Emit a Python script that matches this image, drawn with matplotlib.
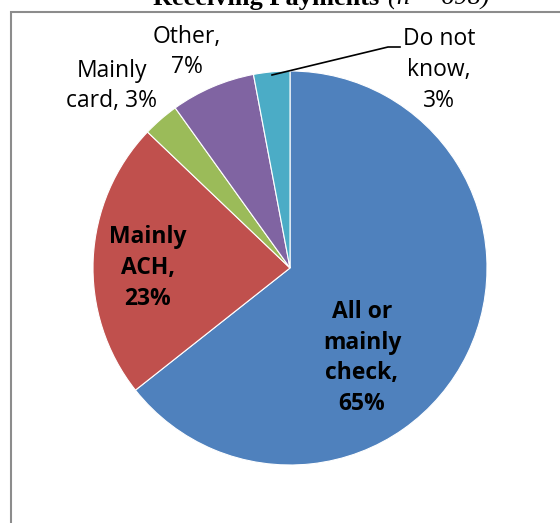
import matplotlib.pyplot as plt
from matplotlib.patches import Rectangle

# payment method shares, percent
categories = ["All or\nmainly\ncheck,", "Mainly\nACH,", "Mainly\ncard,", "Other,", "Do not\nknow,"]
shares = [65, 23, 3, 7, 3]
colors = ["#4F81BD", "#C0504D", "#9BBB59", "#8064A2", "#4BACC6"]

W, H = 560, 523
fig = plt.figure(figsize=(W / 100, H / 100), dpi=100)

# chart area border (runs off the right and bottom edges)
fig.patches.append(Rectangle((11 / W, -0.1), 1.2, (H - 12) / H + 0.1,
                             transform=fig.transFigure, fill=False,
                             edgecolor="#8c8c8c", linewidth=1.5))

# title, partly above the visible area
fig.text(386 / W, 1.0 - 5 / H, "Receiving Payments ", ha="right", va="baseline",
         fontsize=19, fontweight="bold", family="Liberation Serif")
fig.text(388 / W, 1.0 - 5 / H, "(n = 698)", ha="left", va="baseline",
         fontsize=19, fontstyle="italic", family="Liberation Serif")

cx, cy, r = 290, 268, 197
ax = fig.add_axes([(cx - r) / W, (H - cy - r) / H, 2 * r / W, 2 * r / H])
ax.pie(shares, colors=colors, startangle=90, counterclock=False, radius=1,
       wedgeprops=dict(edgecolor="white", linewidth=0.8))
ax.set_xlim(-1, 1)
ax.set_ylim(-1, 1)
ax.set_aspect("equal")
ax.axis("off")


def px(x, y):
    return (x - cx) / r, (cy - y) / r


font = dict(family="Open Sans", fontsize=16.5, ha="center", va="center", linespacing=1.38)
labels = [f"{c}\n{v}%" for c, v in zip(categories, shares)]
labels[2] = "Mainly\ncard, 3%"
ax.text(*px(362, 358), labels[0], fontweight="bold", **font)
ax.text(*px(148, 268), labels[1], fontweight="bold", **font)
ax.text(*px(112, 86), labels[2], **font)
ax.text(*px(187, 52), labels[3], **font)
ax.text(*px(439, 70), labels[4], **font)

# leader line for the small slice
lx, ly = zip(px(272, 75), px(388, 47), px(400, 47))
ax.plot(lx, ly, color="black", linewidth=1.2, clip_on=False)

fig.savefig("out.png", dpi=100)
